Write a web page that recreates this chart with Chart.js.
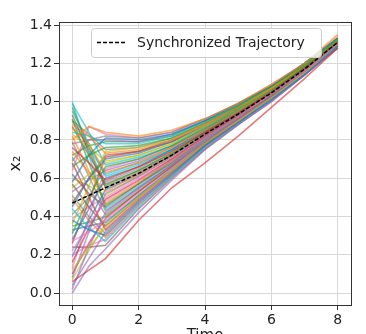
<!DOCTYPE html>
<html>
<head>
<meta charset="utf-8">
<script src="https://cdn.jsdelivr.net/npm/chart.js@4/dist/chart.umd.min.js"></script>
<style>
  html, body { margin: 0; padding: 0; background: #ffffff; overflow: hidden; }
  #wrap { width: 366px; height: 334px; overflow: hidden; }
  canvas { display: block; }
</style>
</head>
<body>
<div id="wrap"><canvas id="c" width="366" height="348"></canvas></div>
<script>
// ---- data ----
const times = [0, 0.5, 1, 2, 3, 4, 5, 6, 7, 8];
const xTicks = [0, 2, 4, 6, 8];
const yTicks = [0.0, 0.2, 0.4, 0.6, 0.8, 1.0, 1.2, 1.4];
const syncLabel = 'Synchronized Trajectory';
const syncValues = [0.47, 0.51, 0.55, 0.625, 0.72, 0.83, 0.935, 1.045, 1.17, 1.31];
const agentValues = [
  [0.38, 0.33, 0.30, 0.47, 0.62, 0.77, 0.89, 1.01, 1.14, 1.29],
  [0.80, 0.87, 0.84, 0.82, 0.85, 0.91, 0.99, 1.09, 1.20, 1.35],
  [0.66, 0.72, 0.76, 0.77, 0.81, 0.89, 0.98, 1.08, 1.19, 1.33],
  [0.06, 0.12, 0.18, 0.38, 0.55, 0.68, 0.82, 0.97, 1.12, 1.28],
  [0.00, 0.14, 0.23, 0.42, 0.59, 0.75, 0.88, 1.00, 1.14, 1.28],
  [0.93, 0.74, 0.55, 0.63, 0.72, 0.83, 0.94, 1.05, 1.17, 1.31],
  [0.22, 0.36, 0.48, 0.59, 0.69, 0.81, 0.92, 1.04, 1.16, 1.30],
  [0.71, 0.55, 0.41, 0.54, 0.67, 0.79, 0.91, 1.03, 1.16, 1.30],
  [0.12, 0.24, 0.34, 0.50, 0.64, 0.78, 0.90, 1.02, 1.15, 1.29],
  [0.44, 0.34, 0.27, 0.45, 0.61, 0.76, 0.88, 1.01, 1.14, 1.29],
  [0.58, 0.72, 0.81, 0.80, 0.83, 0.90, 0.99, 1.08, 1.20, 1.33],
  [0.88, 0.82, 0.73, 0.75, 0.80, 0.88, 0.97, 1.07, 1.19, 1.33],
  [0.31, 0.50, 0.66, 0.70, 0.77, 0.86, 0.96, 1.06, 1.18, 1.32],
  [0.76, 0.68, 0.59, 0.66, 0.74, 0.84, 0.94, 1.05, 1.18, 1.31],
  [0.08, 0.32, 0.52, 0.61, 0.71, 0.82, 0.93, 1.04, 1.17, 1.31],
  [0.62, 0.52, 0.45, 0.57, 0.68, 0.81, 0.92, 1.03, 1.16, 1.30],
  [0.27, 0.32, 0.38, 0.52, 0.65, 0.79, 0.90, 1.02, 1.15, 1.30],
  [0.51, 0.40, 0.31, 0.48, 0.62, 0.77, 0.89, 1.01, 1.14, 1.29],
  [0.83, 0.76, 0.69, 0.72, 0.78, 0.87, 0.96, 1.07, 1.19, 1.32],
  [0.84, 0.82, 0.78, 0.78, 0.82, 0.90, 0.98, 1.08, 1.20, 1.33],
  [0.45, 0.60, 0.70, 0.73, 0.79, 0.87, 0.97, 1.07, 1.19, 1.32],
  [0.86, 0.78, 0.63, 0.68, 0.76, 0.85, 0.95, 1.06, 1.18, 1.32],
  [0.97, 0.76, 0.56, 0.64, 0.73, 0.84, 0.94, 1.05, 1.17, 1.31],
  [0.16, 0.34, 0.49, 0.59, 0.70, 0.82, 0.93, 1.04, 1.16, 1.31],
  [0.02, 0.24, 0.42, 0.55, 0.67, 0.80, 0.91, 1.03, 1.16, 1.30],
  [0.57, 0.45, 0.35, 0.50, 0.64, 0.78, 0.90, 1.02, 1.15, 1.29],
  [0.20, 0.25, 0.28, 0.46, 0.61, 0.76, 0.89, 1.01, 1.14, 1.29],
  [0.69, 0.80, 0.82, 0.81, 0.84, 0.91, 0.99, 1.08, 1.20, 1.33],
  [0.36, 0.56, 0.74, 0.76, 0.80, 0.88, 0.97, 1.07, 1.19, 1.33],
  [0.99, 0.84, 0.67, 0.71, 0.77, 0.87, 0.96, 1.06, 1.18, 1.32],
  [0.28, 0.44, 0.60, 0.66, 0.75, 0.85, 0.95, 1.05, 1.18, 1.32],
  [0.74, 0.63, 0.53, 0.62, 0.72, 0.83, 0.93, 1.04, 1.17, 1.31],
  [0.91, 0.68, 0.46, 0.57, 0.69, 0.81, 0.92, 1.03, 1.16, 1.30],
  [0.10, 0.26, 0.39, 0.53, 0.66, 0.79, 0.91, 1.02, 1.15, 1.30],
  [0.04, 0.18, 0.32, 0.48, 0.63, 0.77, 0.89, 1.01, 1.15, 1.29],
  [0.24, 0.24, 0.25, 0.44, 0.60, 0.75, 0.88, 1.00, 1.14, 1.28],
  [0.64, 0.87, 0.83, 0.81, 0.84, 0.91, 0.99, 1.09, 1.20, 1.34],
  [0.90, 0.83, 0.75, 0.76, 0.81, 0.89, 0.97, 1.07, 1.19, 1.33],
  [0.55, 0.62, 0.68, 0.72, 0.78, 0.87, 0.96, 1.06, 1.19, 1.32],
  [0.95, 0.78, 0.61, 0.67, 0.75, 0.85, 0.95, 1.05, 1.18, 1.32],
  [0.19, 0.38, 0.54, 0.62, 0.72, 0.83, 0.93, 1.04, 1.17, 1.31],
  [0.82, 0.64, 0.47, 0.58, 0.69, 0.81, 0.92, 1.04, 1.16, 1.30],
  [0.35, 0.37, 0.40, 0.53, 0.66, 0.79, 0.91, 1.03, 1.15, 1.30],
  [0.68, 0.50, 0.33, 0.49, 0.63, 0.77, 0.90, 1.02, 1.15, 1.29],
  [0.78, 0.80, 0.80, 0.79, 0.83, 0.90, 0.98, 1.08, 1.20, 1.33],
  [0.47, 0.60, 0.72, 0.74, 0.80, 0.88, 0.97, 1.07, 1.19, 1.33],
  [0.13, 0.40, 0.65, 0.70, 0.77, 0.86, 0.96, 1.06, 1.18, 1.32],
  [0.41, 0.50, 0.58, 0.65, 0.74, 0.84, 0.94, 1.05, 1.17, 1.31],
  [0.60, 0.56, 0.51, 0.61, 0.71, 0.82, 0.93, 1.04, 1.17, 1.31],
  [1.00, 0.72, 0.44, 0.56, 0.68, 0.80, 0.92, 1.03, 1.16, 1.30],
  [0.33, 0.35, 0.37, 0.51, 0.65, 0.78, 0.90, 1.02, 1.15, 1.29],
  [0.49, 0.38, 0.29, 0.46, 0.61, 0.76, 0.89, 1.01, 1.14, 1.29],
  [0.72, 0.77, 0.79, 0.79, 0.82, 0.90, 0.98, 1.08, 1.20, 1.33],
  [0.26, 0.48, 0.71, 0.74, 0.79, 0.88, 0.97, 1.07, 1.19, 1.33],
  [0.53, 0.59, 0.64, 0.69, 0.76, 0.86, 0.95, 1.06, 1.18, 1.32],
  [0.87, 0.72, 0.57, 0.64, 0.73, 0.84, 0.94, 1.05, 1.17, 1.31],
  [0.39, 0.45, 0.50, 0.60, 0.70, 0.82, 0.93, 1.04, 1.17, 1.31],
  [0.79, 0.61, 0.43, 0.55, 0.67, 0.80, 0.91, 1.03, 1.16, 1.30],
  [0.07, 0.22, 0.36, 0.51, 0.64, 0.78, 0.90, 1.02, 1.15, 1.29],
  [0.90, 0.76, 0.62, 0.68, 0.75, 0.85, 0.95, 1.06, 1.18, 1.32]
];
const palette = ['#1f77b4', '#ff7f0e', '#2ca02c', '#d62728', '#9467bd',
                 '#8c564b', '#e377c2', '#7f7f7f', '#bcbd22', '#17becf'];

// ---- styling ----
const FONT = "'DejaVu Sans', sans-serif";
const TEXT = '#222222';
function withAlpha(hex, a) {
  const n = parseInt(hex.slice(1), 16);
  return `rgba(${(n >> 16) & 255},${(n >> 8) & 255},${n & 255},${a})`;
}
function pts(vals) { return vals.map((v, i) => ({ x: times[i], y: v })); }

const datasets = [{
  label: syncLabel,
  data: pts(syncValues),
  borderColor: '#000000',
  borderWidth: 1.5,
  borderDash: [4, 2],
  pointRadius: 0,
  fill: false,
  tension: 0,
  order: 0
}];
agentValues.forEach((vals, i) => {
  datasets.push({
    label: 'agent ' + (i + 1),
    data: pts(vals),
    borderColor: withAlpha(palette[i % 10], 0.62),
    borderWidth: 1.6,
    pointRadius: 0,
    fill: false,
    tension: 0,
    order: 1
  });
});

const framePlugin = {
  id: 'frameLegend',
  afterDraw(chart) {
    const { ctx, chartArea: a } = chart;
    ctx.save();
    // axes frame (all four spines)
    ctx.strokeStyle = '#333333';
    ctx.lineWidth = 1;
    ctx.strokeRect(Math.round(a.left) + 0.5, Math.round(a.top) + 0.5,
                   Math.round(a.right - a.left), Math.round(a.bottom - a.top));
    // legend box
    const bx = 91.5, by = 28.5, bw = 230, bh = 29;
    ctx.beginPath();
    if (ctx.roundRect) ctx.roundRect(bx, by, bw, bh, 3); else ctx.rect(bx, by, bw, bh);
    ctx.fillStyle = 'rgba(255,255,255,0.8)';
    ctx.fill();
    ctx.strokeStyle = '#cccccc';
    ctx.stroke();
    // legend sample line
    ctx.beginPath();
    ctx.setLineDash([4, 2]);
    ctx.strokeStyle = '#000000';
    ctx.lineWidth = 1.5;
    ctx.moveTo(97, 42.5);
    ctx.lineTo(127, 42.5);
    ctx.stroke();
    ctx.setLineDash([]);
    // legend label
    ctx.fillStyle = TEXT;
    ctx.font = '14px ' + FONT;
    ctx.textBaseline = 'middle';
    ctx.textAlign = 'left';
    ctx.fillText(syncLabel, 137, 43);
    ctx.restore();
  }
};

new Chart(document.getElementById('c'), {
  type: 'line',
  data: { datasets },
  plugins: [framePlugin],
  options: {
    responsive: false,
    animation: false,
    events: [],
    layout: { padding: { top: 22, right: 15, bottom: 0, left: 0 } },
    plugins: { legend: { display: false }, tooltip: { enabled: false } },
    scales: {
      x: {
        type: 'linear',
        min: -0.4,
        max: 8.4,
        afterBuildTicks: s => { s.ticks = xTicks.map(v => ({ value: v })); },
        afterFit: s => { s.height = 43; },
        border: { display: false },
        grid: { color: '#d8d8d8', lineWidth: 1, tickLength: 5, tickColor: '#333333', drawTicks: true },
        ticks: { color: TEXT, font: { family: FONT, size: 14 }, padding: 2, maxRotation: 0,
                 callback: v => String(v) },
        title: { display: true, text: 'Time', color: TEXT,
                 font: { family: FONT, size: 15 }, padding: { top: 0, bottom: 3 } }
      },
      y: {
        type: 'linear',
        min: -0.0625,
        max: 1.416,
        afterBuildTicks: s => { s.ticks = yTicks.map(v => ({ value: v })); },
        afterFit: s => { s.width = 59; },
        border: { display: false },
        grid: { color: '#d8d8d8', lineWidth: 1, tickLength: 5, tickColor: '#333333', drawTicks: true },
        ticks: { color: TEXT, font: { family: FONT, size: 14 }, padding: 2,
                 callback: v => Number(v).toFixed(1) },
        title: { display: true, text: 'x₂', color: TEXT,
                 font: { family: FONT, size: 16 }, padding: { top: 6, bottom: 0 } }
      }
    }
  }
});
</script>
</body>
</html>
